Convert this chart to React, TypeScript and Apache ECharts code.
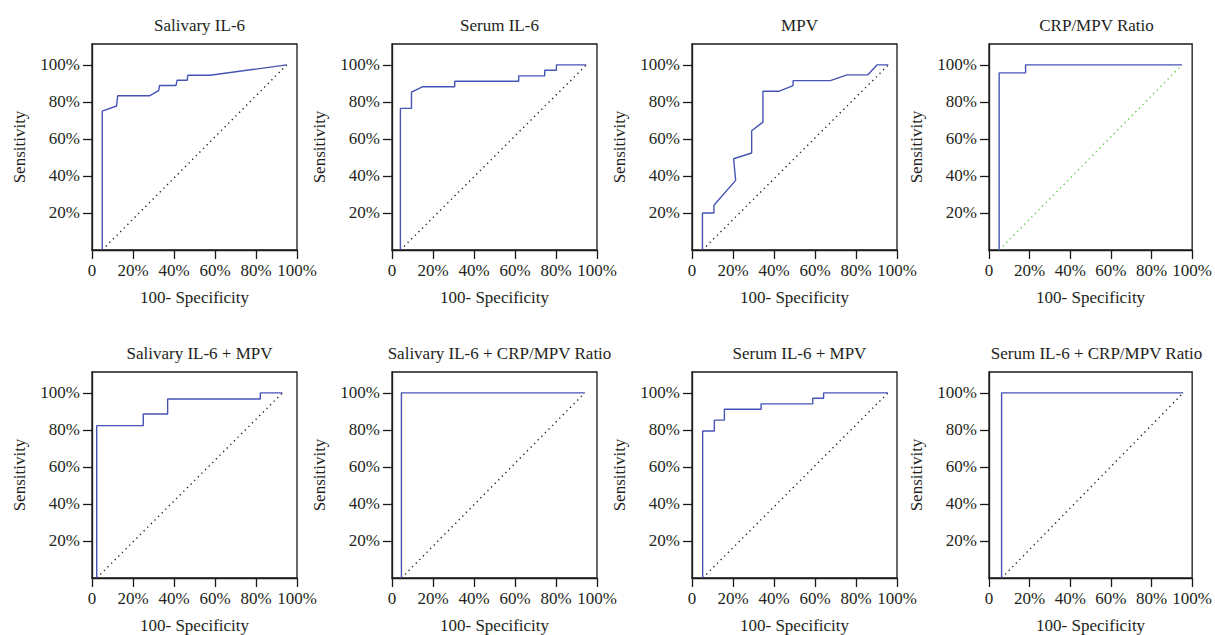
import React, { useEffect, useRef } from "react";
import * as echarts from "echarts";

// Panel titles
const titles = [
  "Salivary IL-6",
  "Serum IL-6",
  "MPV",
  "CRP/MPV Ratio",
  "Salivary IL-6 + MPV",
  "Salivary IL-6 + CRP/MPV Ratio",
  "Serum IL-6 + MPV",
  "Serum IL-6 + CRP/MPV Ratio",
];

// ROC curves: [100-specificity %, sensitivity %]
const salivaryIL6 = [
  [5, 0], [5, 75], [12, 77.8], [12.5, 83.3], [28, 83.3], [32.5, 86.1], [33, 88.9],
  [41, 88.9], [41.5, 91.7], [46.5, 91.7], [46.7, 94.4], [57.6, 94.4], [95, 100],
];
const serumIL6 = [
  [4.1, 0], [4.1, 76.5], [9.5, 76.5], [9.5, 85.3], [14.8, 88.2], [30.6, 88.2], [30.6, 91.2],
  [61.8, 91.2], [61.8, 94.1], [74.5, 94.1], [74.5, 97.1], [80.2, 97.1], [80.2, 100], [94.8, 100],
];
const mpv = [
  [5.1, 0], [5.1, 20], [10.7, 20], [10.7, 24.2], [21.3, 37.6], [20.3, 49.3], [29.1, 52.4],
  [29.1, 64.4], [34.6, 69.1], [34.6, 85.8], [42.6, 85.8], [49.3, 88.8], [49.3, 91.5],
  [67.5, 91.5], [75.6, 94.6], [85.7, 94.6], [90.2, 100], [95.8, 100],
];
const crpMpvRatio = [
  [5, 0], [5, 95.7], [18, 95.7], [18, 100], [95, 100],
];
const salivaryIL6Mpv = [
  [2.3, 0], [2.3, 82.3], [25, 82.3], [25, 88.6], [36.9, 88.6], [36.9, 96.7],
  [82.1, 96.7], [82.1, 100], [92.9, 100],
];
const salivaryIL6CrpMpv = [
  [4.6, 0], [4.6, 100], [94, 100],
];
const serumIL6Mpv = [
  [5.2, 0], [5.2, 79.4], [10.9, 79.4], [10.9, 85.3], [15.8, 85.3], [15.8, 91.2],
  [33.7, 91.2], [33.7, 94.1], [58.9, 94.1], [58.9, 97.1], [64.2, 97.1], [64.2, 100], [95.6, 100],
];
const serumIL6CrpMpv = [
  [6.2, 0], [6.2, 100], [95.6, 100],
];

const curves = [
  salivaryIL6, serumIL6, mpv, crpMpvRatio,
  salivaryIL6Mpv, salivaryIL6CrpMpv, serumIL6Mpv, serumIL6CrpMpv,
];

// Axis ticks
const xTicks = [0, 20, 40, 60, 80, 100];
const yTicks = [20, 40, 60, 80, 100];
const diagonalColors = ["#222", "#222", "#222", "#5cc843", "#222", "#222", "#222", "#222"];

const FONT = "Liberation Serif";
const TEXT = "#231f20";

export default function App() {
  const ref = useRef<HTMLDivElement>(null);
  useEffect(() => {
    if (!ref.current) return;
    const chart = echarts.init(ref.current, undefined, { renderer: "svg" });
    const colLeft = [92, 392, 692, 989];
    const rowTop = [44, 372];
    const W = 205;
    const H = 206;
    const grids: any[] = [];
    const xAxes: any[] = [];
    const yAxes: any[] = [];
    const series: any[] = [];
    const titleArr: any[] = [];
    curves.forEach((c, i) => {
      const col = i % 4;
      const row = Math.floor(i / 4);
      const left = colLeft[col];
      const top = rowTop[row];
      grids.push({
        left, top, width: W, height: H,
        show: true, borderColor: "#1a1a1a", borderWidth: 1.3, backgroundColor: "transparent",
      });
      titleArr.push({
        text: titles[i],
        left: left + W / 2,
        top: top - 32,
        textAlign: "center",
        textStyle: { fontFamily: FONT, fontSize: 17, fontWeight: "normal", color: TEXT },
      });
      xAxes.push({
        type: "value", gridIndex: i, min: 0, max: 100, interval: 20,
        name: "100- Specificity", nameLocation: "middle", nameGap: 39,
        nameTextStyle: { fontFamily: FONT, fontSize: 17, color: TEXT },
        axisLine: { show: true, lineStyle: { color: "#1a1a1a", width: 1.3 } },
        axisTick: { show: true, length: 9, lineStyle: { color: "#1a1a1a", width: 1.3 }, customValues: xTicks },
        axisLabel: {
          margin: 12, fontFamily: FONT, fontSize: 17, color: TEXT,
          customValues: xTicks, showMinLabel: true, showMaxLabel: true,
          formatter: (v: number) => (v === 0 ? "0" : v + "%"),
        },
        splitLine: { show: false },
      });
      yAxes.push({
        type: "value", gridIndex: i, min: 0, max: 111.3,
        name: "Sensitivity", nameLocation: "middle", nameGap: 64,
        nameTextStyle: { fontFamily: FONT, fontSize: 17, color: TEXT },
        axisLine: { show: true, lineStyle: { color: "#1a1a1a", width: 1.3 } },
        axisTick: { show: true, length: 9, lineStyle: { color: "#1a1a1a", width: 1.3 }, customValues: yTicks },
        axisLabel: {
          margin: 12, fontFamily: FONT, fontSize: 17, color: TEXT,
          customValues: yTicks,
          formatter: (v: number) => v + "%",
        },
        splitLine: { show: false },
      });
      const first = c[0];
      const last = c[c.length - 1];
      series.push({
        type: "line", xAxisIndex: i, yAxisIndex: i, silent: true,
        data: [[first[0], 0], [last[0], 100]],
        showSymbol: false, symbol: "none",
        lineStyle: { color: diagonalColors[i], width: 1.4, type: [1.3, 3.8] },
        z: 2,
      });
      series.push({
        type: "line", xAxisIndex: i, yAxisIndex: i, silent: true,
        data: c, showSymbol: false, symbol: "none",
        lineStyle: { color: "#4654b4", width: 1.4 },
        z: 3,
      });
    });
    chart.setOption({
      animation: false,
      backgroundColor: "#ffffff",
      textStyle: { fontFamily: FONT },
      title: titleArr,
      grid: grids,
      xAxis: xAxes,
      yAxis: yAxes,
      series,
    });
    return () => chart.dispose();
  }, []);
  return (
    <div
      ref={ref}
      style={{ position: "fixed", left: 0, top: 0, width: 1215, height: 635 }}
    />
  );
}
